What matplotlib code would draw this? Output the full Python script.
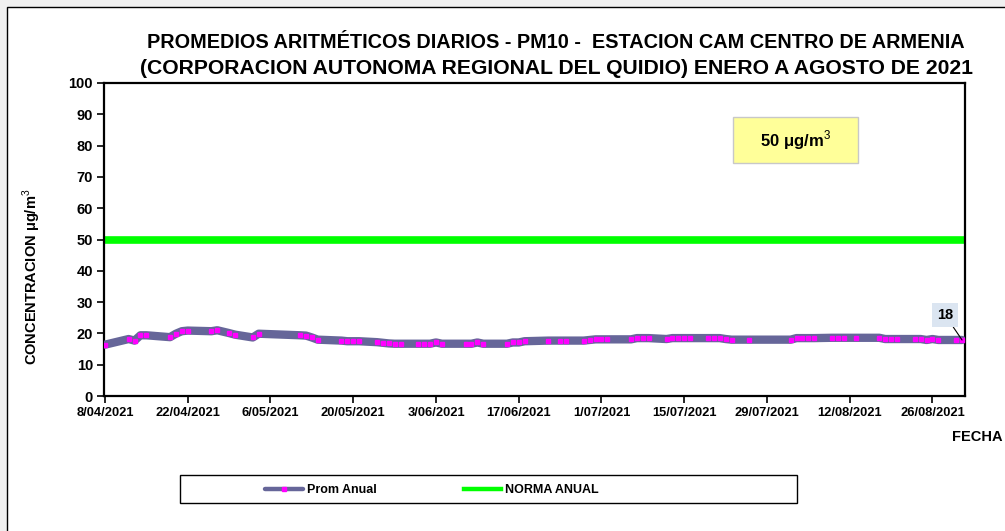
import numpy as np
import pandas as pd
import matplotlib
matplotlib.use("Agg")
import matplotlib.pyplot as plt
from matplotlib.patches import Rectangle

# Datos (promedio acumulado PM10, días con dato)
fechas = [
    "2021-04-08", "2021-04-12", "2021-04-13", "2021-04-14", "2021-04-15",
    "2021-04-19", "2021-04-20", "2021-04-21", "2021-04-22", "2021-04-26",
    "2021-04-27", "2021-04-29", "2021-04-30", "2021-05-03", "2021-05-04",
    "2021-05-11", "2021-05-12", "2021-05-13", "2021-05-14", "2021-05-18",
    "2021-05-19", "2021-05-20", "2021-05-21", "2021-05-24", "2021-05-25",
    "2021-05-26", "2021-05-27", "2021-05-28", "2021-05-31", "2021-06-01",
    "2021-06-02", "2021-06-03", "2021-06-04", "2021-06-08", "2021-06-09",
    "2021-06-10", "2021-06-11", "2021-06-15", "2021-06-16", "2021-06-17",
    "2021-06-18", "2021-06-22", "2021-06-24", "2021-06-25", "2021-06-28",
    "2021-06-29", "2021-06-30", "2021-07-01", "2021-07-02", "2021-07-06",
    "2021-07-07", "2021-07-08", "2021-07-09", "2021-07-12", "2021-07-13",
    "2021-07-14", "2021-07-15", "2021-07-16", "2021-07-19", "2021-07-20",
    "2021-07-21", "2021-07-22", "2021-07-23", "2021-07-26", "2021-08-02",
    "2021-08-03", "2021-08-04", "2021-08-05", "2021-08-06", "2021-08-09",
    "2021-08-10", "2021-08-11", "2021-08-13", "2021-08-17", "2021-08-18",
    "2021-08-19", "2021-08-20", "2021-08-23", "2021-08-24", "2021-08-25",
    "2021-08-26", "2021-08-27", "2021-08-30", "2021-08-31",
]
prom_anual = [
    16.4, 18.2, 17.7, 19.4, 19.4,
    18.8, 19.9, 20.7, 20.9, 20.7,
    21.0, 20.1, 19.6, 18.7, 19.9,
    19.4, 19.3, 18.7, 18.0, 17.7,
    17.5, 17.5, 17.5, 17.2, 17.0,
    16.8, 16.7, 16.7, 16.7, 16.7,
    16.7, 17.1, 16.7, 16.7, 16.7,
    17.1, 16.7, 16.7, 17.1, 17.1,
    17.5, 17.7, 17.7, 17.7, 17.7,
    17.9, 18.1, 18.1, 18.1, 18.1,
    18.5, 18.5, 18.5, 18.2, 18.5,
    18.5, 18.5, 18.5, 18.5, 18.5,
    18.5, 18.2, 18.0, 18.0, 18.0,
    18.5, 18.5, 18.5, 18.5, 18.6,
    18.6, 18.6, 18.6, 18.6, 18.2,
    18.2, 18.2, 18.2, 18.2, 17.9,
    18.2, 17.9, 17.9, 17.9,
]
norma_anual = 50
tick_fechas = ["2021-04-08", "2021-04-22", "2021-05-06", "2021-05-20", "2021-06-03",
               "2021-06-17", "2021-07-01", "2021-07-15", "2021-07-29", "2021-08-12",
               "2021-08-26"]
tick_labels = ["8/04/2021", "22/04/2021", "6/05/2021", "20/05/2021", "3/06/2021",
               "17/06/2021", "1/07/2021", "15/07/2021", "29/07/2021", "12/08/2021",
               "26/08/2021"]

plt.rcParams['font.family'] = ['Liberation Sans', 'DejaVu Sans']
plt.rcParams['mathtext.fontset'] = 'custom'
plt.rcParams['mathtext.rm'] = 'Liberation Sans'
plt.rcParams['mathtext.bf'] = 'Liberation Sans:bold'

x = pd.to_datetime(fechas)
xt = pd.to_datetime(tick_fechas)

fig = plt.figure(figsize=(10.05, 5.31), dpi=100, facecolor='#f0f0f0')
# marco blanco del área del gráfico
fig.patches.append(Rectangle((7 / 1005, -0.05), 1.1, 1 - 7 / 531 + 0.05,
                             transform=fig.transFigure, facecolor='white',
                             edgecolor='black', linewidth=1.0, zorder=-2))

ax = fig.add_axes([104 / 1005, 1 - 396 / 531, (965 - 104) / 1005, (396 - 83) / 531])
ax.set_zorder(2)

ax.axhline(norma_anual, color='#00ff00', linewidth=5.5, zorder=2, label='NORMA ANUAL')
ax.plot(x, prom_anual, color='#666699', linewidth=6, solid_capstyle='round',
        solid_joinstyle='round', marker='s', markersize=3.2,
        markerfacecolor='#ff00ff', markeredgecolor='#ff00ff',
        zorder=3, label='Prom Anual')

ax.set_ylim(0, 100)
ax.set_yticks(np.arange(0, 101, 10))
ax.set_xlim(x[0] - pd.Timedelta(hours=4), x[-1] + pd.Timedelta(hours=12))
ax.set_xticks(xt)
ax.set_xticklabels(tick_labels)
for lab in ax.get_xticklabels():
    lab.set_fontweight('bold')
    lab.set_fontsize(9.3)
for lab in ax.get_yticklabels():
    lab.set_fontweight('bold')
    lab.set_fontsize(10.5)
ax.tick_params(axis='both', direction='out', length=5, width=1.2, color='black')
ax.tick_params(axis='y', pad=3)
ax.tick_params(axis='x', pad=3)
for s in ax.spines.values():
    s.set_linewidth(1.6)
    s.set_color('black')

fig.text(32 / 1005, 1 - 277 / 531, 'CONCENTRACION μg/m$^3$', rotation=90,
         fontsize=10.5, fontweight='bold', ha='center', va='center')

# recuadro de la norma
ax.add_patch(Rectangle((0.7305, 0.7444), 0.1452, 0.147, transform=ax.transAxes,
                       facecolor='#ffff99', edgecolor='#c8c8c8', linewidth=1, zorder=4))
ax.text(0.803, 0.818, '50 μg/m$^3$', transform=ax.transAxes,
        ha='center', va='center', fontsize=12, fontweight='bold', zorder=5)

# etiqueta del último valor
ax.annotate(f'{round(prom_anual[-1])}', xy=(x[-1], prom_anual[-1]),
            xytext=(-17, 25), textcoords='offset pixels', ha='center', va='center',
            fontsize=10.5, fontweight='bold', zorder=6,
            bbox=dict(boxstyle='square,pad=0.35', facecolor='#dbe5f1', edgecolor='none'),
            arrowprops=dict(arrowstyle='-', color='black', linewidth=0.8,
                            shrinkA=0, shrinkB=0))

fig.text(952 / 1005, 1 - 437 / 531, 'FECHA', fontsize=10.5, fontweight='bold',
         ha='left', va='center')

fig.text(556 / 1005, 1 - 42 / 531,
         'PROMEDIOS ARITMÉTICOS DIARIOS - PM10 -  ESTACION CAM CENTRO DE ARMENIA',
         family='Liberation Sans', fontsize=14.3, fontweight='bold',
         ha='center', va='center')
fig.text(556 / 1005, 1 - 68 / 531,
         '(CORPORACION AUTONOMA REGIONAL DEL QUIDIO) ENERO A AGOSTO DE 2021',
         family='Liberation Sans', fontsize=15.2, fontweight='bold',
         ha='center', va='center')

# leyenda con recuadro propio
fig.patches.append(Rectangle((180 / 1005, 1 - 503 / 531), (797 - 180) / 1005, 28 / 531,
                             transform=fig.transFigure, facecolor='white',
                             edgecolor='black', linewidth=1.0, zorder=-1))
h, l = ax.get_legend_handles_labels()
leg = fig.legend(h[::-1], l[::-1], loc='center', bbox_to_anchor=(432 / 1005, 1 - 490 / 531),
                 ncol=2, frameon=False, handlelength=3.0, handletextpad=0.3,
                 columnspacing=7.0, prop={'family': 'Liberation Sans', 'weight': 'bold', 'size': 9})
for line in leg.get_lines():
    line.set_linewidth(3.2)

fig.savefig('out.png', dpi=100, facecolor=fig.get_facecolor())
